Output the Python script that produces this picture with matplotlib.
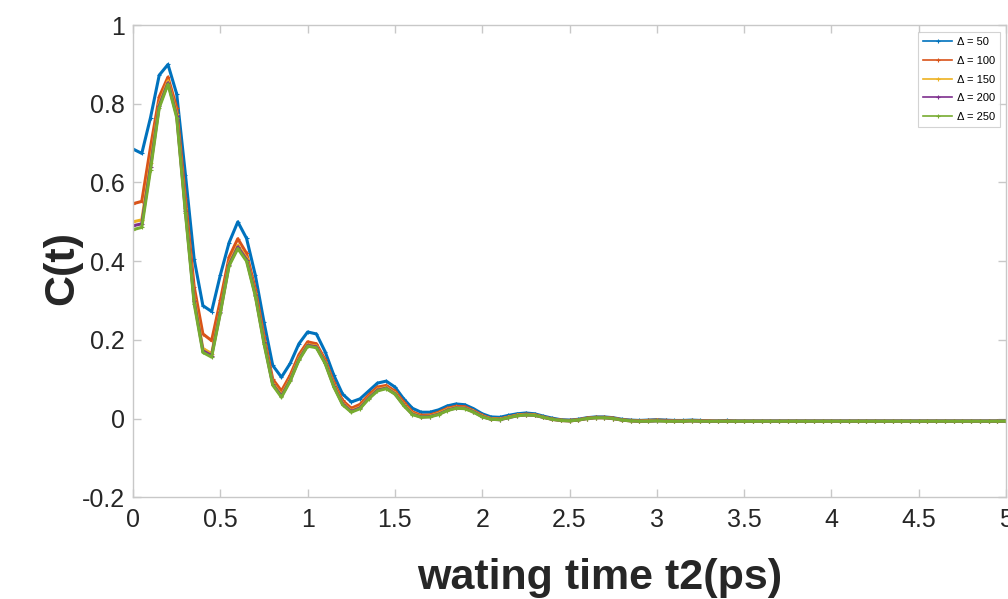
import numpy as np
import matplotlib
matplotlib.use("Agg")
import matplotlib.pyplot as plt

plt.rcParams['font.family'] = ['Liberation Sans', 'DejaVu Sans']

# waiting time axis (ps), sampled every 50 fs
t2 = np.linspace(0.0, 5.0, 101)

c_50 = [
    0.685, 0.674, 0.765, 0.873, 0.900, 0.825, 0.620, 0.405, 0.287, 0.272,
    0.365, 0.447, 0.500, 0.458, 0.365, 0.245, 0.135, 0.105, 0.140, 0.190,
    0.220, 0.215, 0.170, 0.110, 0.062, 0.042, 0.050, 0.070, 0.090, 0.095,
    0.080, 0.050, 0.026, 0.016, 0.016, 0.022, 0.032, 0.037, 0.035, 0.025,
    0.012, 0.004, 0.003, 0.008, 0.012, 0.014, 0.012, 0.006, 0.001, -0.003,
    -0.004, -0.002, 0.002, 0.004, 0.004, 0.002, -0.002, -0.004, -0.005, -0.004,
    -0.003, -0.004, -0.005, -0.005, -0.004, -0.005, -0.006, -0.006, -0.005, -0.006,
    -0.006, -0.006, -0.006, -0.006, -0.006, -0.006, -0.006, -0.006, -0.006, -0.006,
    -0.006, -0.006, -0.006, -0.006, -0.006, -0.006, -0.006, -0.006, -0.006, -0.006,
    -0.006, -0.006, -0.006, -0.006, -0.006, -0.006, -0.006, -0.006, -0.006, -0.006,
    -0.006,
]

c_100 = [
    0.546, 0.552, 0.690, 0.818, 0.868, 0.790, 0.560, 0.335, 0.215, 0.198,
    0.300, 0.410, 0.457, 0.420, 0.330, 0.210, 0.100, 0.070, 0.110, 0.162,
    0.195, 0.190, 0.150, 0.092, 0.046, 0.026, 0.036, 0.060, 0.080, 0.084,
    0.070, 0.042, 0.017, 0.008, 0.009, 0.016, 0.026, 0.031, 0.030, 0.020,
    0.008, 0.000, -0.001, 0.004, 0.009, 0.011, 0.010, 0.004, -0.001, -0.004,
    -0.005, -0.003, 0.001, 0.003, 0.003, 0.001, -0.003, -0.005, -0.006, -0.005,
    -0.004, -0.005, -0.006, -0.006, -0.005, -0.006, -0.006, -0.007, -0.006, -0.007,
    -0.007, -0.007, -0.007, -0.007, -0.007, -0.007, -0.007, -0.007, -0.007, -0.007,
    -0.007, -0.007, -0.007, -0.007, -0.007, -0.007, -0.007, -0.007, -0.007, -0.007,
    -0.007, -0.007, -0.007, -0.007, -0.007, -0.007, -0.007, -0.007, -0.007, -0.007,
    -0.007,
]

c_150 = [
    0.500, 0.505, 0.650, 0.800, 0.858, 0.775, 0.535, 0.305, 0.178, 0.165,
    0.275, 0.395, 0.440, 0.408, 0.318, 0.198, 0.090, 0.060, 0.100, 0.153,
    0.188, 0.184, 0.144, 0.085, 0.039, 0.020, 0.029, 0.054, 0.074, 0.079,
    0.065, 0.036, 0.013, 0.005, 0.006, 0.013, 0.023, 0.028, 0.027, 0.018,
    0.006, -0.001, -0.002, 0.003, 0.008, 0.010, 0.009, 0.003, -0.002, -0.005,
    -0.006, -0.004, 0.000, 0.002, 0.002, 0.000, -0.004, -0.006, -0.007, -0.006,
    -0.005, -0.006, -0.007, -0.007, -0.006, -0.007, -0.007, -0.007, -0.007, -0.007,
    -0.007, -0.007, -0.007, -0.007, -0.007, -0.007, -0.007, -0.007, -0.007, -0.007,
    -0.007, -0.007, -0.007, -0.007, -0.007, -0.007, -0.007, -0.007, -0.007, -0.007,
    -0.007, -0.007, -0.007, -0.007, -0.007, -0.007, -0.007, -0.007, -0.007, -0.007,
    -0.007,
]

c_200 = [
    0.490, 0.495, 0.640, 0.795, 0.853, 0.770, 0.528, 0.298, 0.172, 0.160,
    0.271, 0.391, 0.436, 0.404, 0.315, 0.194, 0.087, 0.057, 0.097, 0.150,
    0.186, 0.182, 0.142, 0.082, 0.037, 0.018, 0.027, 0.052, 0.072, 0.077,
    0.063, 0.034, 0.011, 0.004, 0.005, 0.011, 0.021, 0.027, 0.026, 0.017,
    0.005, -0.002, -0.003, 0.002, 0.007, 0.009, 0.008, 0.003, -0.002, -0.005,
    -0.006, -0.004, 0.000, 0.002, 0.002, 0.000, -0.004, -0.006, -0.007, -0.007,
    -0.006, -0.006, -0.007, -0.007, -0.006, -0.007, -0.007, -0.007, -0.007, -0.007,
    -0.007, -0.007, -0.007, -0.007, -0.007, -0.007, -0.007, -0.007, -0.007, -0.007,
    -0.007, -0.007, -0.007, -0.007, -0.007, -0.007, -0.007, -0.007, -0.007, -0.007,
    -0.007, -0.007, -0.007, -0.007, -0.007, -0.007, -0.007, -0.007, -0.007, -0.007,
    -0.007,
]

c_250 = [
    0.480, 0.486, 0.632, 0.790, 0.850, 0.765, 0.522, 0.292, 0.168, 0.156,
    0.268, 0.388, 0.432, 0.400, 0.312, 0.190, 0.085, 0.054, 0.095, 0.148,
    0.184, 0.180, 0.140, 0.080, 0.035, 0.016, 0.025, 0.050, 0.070, 0.076,
    0.062, 0.033, 0.010, 0.003, 0.004, 0.010, 0.020, 0.026, 0.025, 0.016,
    0.004, -0.002, -0.003, 0.002, 0.007, 0.009, 0.008, 0.003, -0.002, -0.005,
    -0.006, -0.004, 0.000, 0.002, 0.002, 0.000, -0.004, -0.006, -0.007, -0.007,
    -0.006, -0.007, -0.007, -0.007, -0.006, -0.007, -0.007, -0.007, -0.007, -0.007,
    -0.007, -0.007, -0.007, -0.007, -0.007, -0.007, -0.007, -0.007, -0.007, -0.007,
    -0.007, -0.007, -0.007, -0.007, -0.007, -0.007, -0.007, -0.007, -0.007, -0.007,
    -0.007, -0.007, -0.007, -0.007, -0.007, -0.007, -0.007, -0.007, -0.007, -0.007,
    -0.007,
]

series = [c_50, c_100, c_150, c_200, c_250]
labels = ['Δ = 50', 'Δ = 100', 'Δ = 150', 'Δ = 200', 'Δ = 250']
colors = ['#0072BD', '#D95319', '#EDB120', '#7E2F8E', '#77AC30']

x_ticks = [0, 0.5, 1, 1.5, 2, 2.5, 3, 3.5, 4, 4.5, 5]
x_ticklabels = ['0', '0.5', '1', '1.5', '2', '2.5', '3', '3.5', '4', '4.5', '5']
y_ticks = [-0.2, 0, 0.2, 0.4, 0.6, 0.8, 1]
y_ticklabels = ['-0.2', '0', '0.2', '0.4', '0.6', '0.8', '1']

fig = plt.figure(figsize=(10.08, 5.99), dpi=100)
ax = fig.add_axes([0.132, 0.170, 0.866, 0.788])

for vals, lab, col in zip(series, labels, colors):
    ax.plot(t2, vals, color=col, lw=2.2, marker='+', markersize=3,
            markeredgewidth=0.8, label=lab)

ax.set_xlim(0, 5)
ax.set_ylim(-0.2, 1)
ax.set_xticks(x_ticks)
ax.set_xticklabels(x_ticklabels)
ax.set_yticks(y_ticks)
ax.set_yticklabels(y_ticklabels)

for s in ax.spines.values():
    s.set_color('#c8c8c8')
    s.set_linewidth(1.0)
ax.tick_params(axis='both', direction='in', length=6, width=1.0,
               color='#c8c8c8', labelsize=18, labelcolor='#262626',
               top=True, right=True)
ax.tick_params(axis='x', pad=8)
ax.tick_params(axis='y', pad=6)

ax.set_xlabel('wating time t2(ps)', fontsize=31, fontweight='bold',
              color='#262626')
ax.xaxis.set_label_coords(0.534, -0.129)
ax.set_ylabel('C(t)', fontsize=31, fontweight='bold', color='#262626')
ax.yaxis.set_label_coords(-0.058, 0.485)

leg = ax.legend(loc='upper right', bbox_to_anchor=(0.993, 0.985),
                borderaxespad=0, fontsize=8, frameon=True, fancybox=False,
                handlelength=2.6, handletextpad=0.4, labelspacing=0.78,
                borderpad=0.45)
leg.get_frame().set_edgecolor('#c8c8c8')
leg.get_frame().set_linewidth(0.8)
for h in leg.get_lines():
    h.set_linewidth(1.2)

fig.savefig('out.png', dpi=100)
